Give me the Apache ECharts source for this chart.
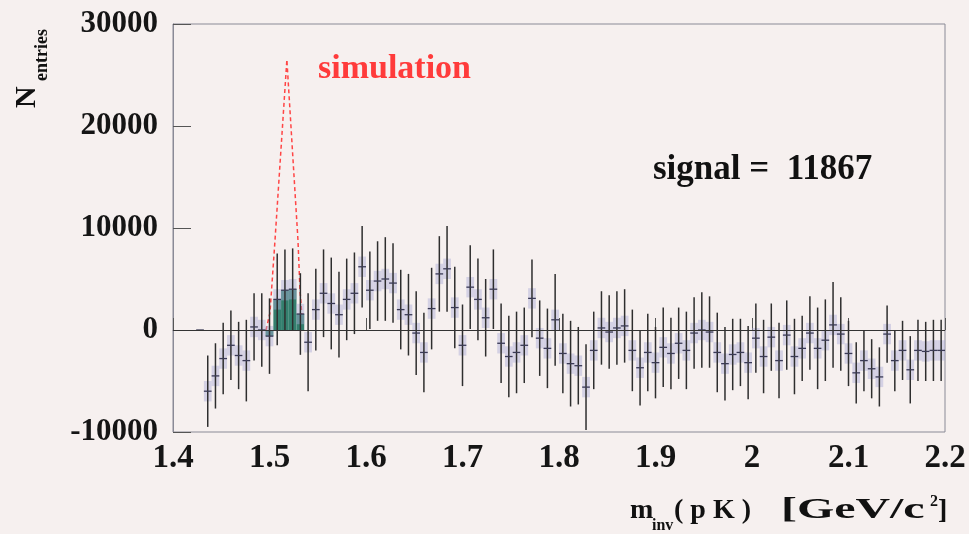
<!DOCTYPE html>
<html>
<head>
<meta charset="utf-8">
<script src="https://cdn.jsdelivr.net/npm/echarts@6/dist/echarts.min.js"></script>
<style>
  html, body { margin: 0; padding: 0; background: #f6f0ef; }
  #chart { width: 969px; height: 534px; }
</style>
</head>
<body>
<div id="chart"></div>
<script>
// Histogram binning of the invariant-mass spectrum: 100 bins from 1.4 to 2.2 GeV/c^2
const HIST_MIN = 1.4;
const BIN_WIDTH = 0.008;
const FIRST_FILLED_BIN = 3;

// Background-subtracted entries per bin, starting at FIRST_FILLED_BIN
const counts = [
  0, -6000, -4500, -2800, -1500, -2500, -3000, 300, 0, -600,
  3000, 3900, 4000, 1567, -1200, 2000, 3600, 2600, 1500, 3000,
  3600, 6200, 3900, 4800, 5000, 4600, 2000, 1500, -300, -2200,
  2100, 5500, 6000, 2200, -1500, 4200, 3000, 1200, 4000, -1300,
  -2600, -2200, -1500, 3100, -800, -1800, 1000, -2300, -3300, -3500,
  -5600, -2000, 200, -200, 200, 400, -2000, -3700, -2200, -3200,
  -1700, -2300, -1300, -2000, -300, 0, -200, -2200, -3300, -2400,
  -2200, -3200, -800, -2600, -700, -3000, -500, -2600, -1800, -300,
  -1800, -1000, 500, -400, -2300, -4200, -3000, -3800, -4600, -400,
  -3000, -2000, -3900, -2000, -2100, -2000, -2000
];

// Statistical error per bin
const errors = [
  0, 3500, 3200, 3500, 3400, 3300, 4000, 3300, 3600, 3700,
  4500, 4000, 4000, 4000, 4800, 4000, 4300, 4500, 4200, 4000,
  4000, 4000, 3800, 3900, 4100, 3900, 3900, 4000, 4100, 3900,
  4000, 3700, 4200, 4000, 4000, 4100, 4000, 3800, 3900, 3900,
  4000, 4000, 3700, 3800, 3700, 3900, 4500, 3900, 4200, 3800,
  4200, 3800, 3600, 3600, 3600, 3600, 4000, 3700, 3800, 3500,
  3900, 3500, 3500, 3800, 3500, 3700, 3500, 3900, 3600, 3500,
  3300, 3600, 3400, 3600, 3300, 3700, 3400, 3700, 3200, 3600,
  4000, 4000, 4200, 3600, 3200, 3000, 3000, 2900, 2900, 2800,
  3000, 2900, 3300, 3000, 2900, 3000, 3000
];

// Systematic band half-height drawn as a box around each point
const SYS_ERR = 1000;

// Bins counted as the signal peak
const signalBins = [12, 13, 14, 15, 16];

// Simulated peak shape
const simMass = [1.4964, 1.5005, 1.5057, 1.5180, 1.5295, 1.5316, 1.5347];
const simCounts = [0, 1700, 8800, 26500, 8800, 3900, 0];

// Axis ticks
const xTicks = { min: 1.4, max: 2.2, step: 0.1 };
const yTicks = { min: -10000, max: 30000, step: 10000 };

const binData = counts.map((c, k) => {
  const bin = FIRST_FILLED_BIN + k;
  const center = HIST_MIN + BIN_WIDTH * (bin + 0.5);
  return [center, c, errors[k], signalBins.includes(bin) ? 1 : 0];
});

const signalSum = counts.reduce((s, c, k) =>
  signalBins.includes(FIRST_FILLED_BIN + k) ? s + c : s, 0);

const SERIF = '"Liberation Serif", "DejaVu Serif", serif';

function renderBin(params, api) {
  const m = api.value(0), v = api.value(1), e = api.value(2), sig = api.value(3);
  const half = BIN_WIDTH / 2;
  const left = api.coord([m - half, v]);
  const right = api.coord([m + half, v]);
  const cx = api.coord([m, v])[0];
  const yv = left[1];
  const y0 = api.coord([m, 0])[1];
  const yTop = api.coord([m, v + e])[1];
  const yBot = api.coord([m, v - e])[1];
  const sTop = api.coord([m, v + SYS_ERR])[1];
  const sBot = api.coord([m, v - SYS_ERR])[1];
  const children = [];
  if (sig) {
    children.push({
      type: 'rect',
      shape: { x: left[0], y: Math.min(y0, yv), width: right[0] - left[0], height: Math.abs(y0 - yv) },
      style: { fill: '#337f6e' }
    });
  }
  if (e > 0) {
    children.push({
      type: 'rect',
      shape: { x: left[0], y: sTop, width: right[0] - left[0], height: sBot - sTop },
      style: { fill: 'rgba(170,170,215,0.45)' }
    });
    children.push({
      type: 'line',
      shape: { x1: cx, y1: yTop, x2: cx, y2: yBot },
      style: { stroke: '#2e2e2e', lineWidth: 1.5 }
    });
  }
  children.push({
    type: 'line',
    shape: { x1: left[0], y1: yv, x2: right[0], y2: yv },
    style: { stroke: '#3a3a55', lineWidth: 1.3 }
  });
  return { type: 'group', children };
}

function txt(x, y, text, size, opts) {
  opts = opts || {};
  return {
    type: 'text',
    x, y,
    rotation: opts.rotation || 0,
    scaleX: opts.scaleX || 1,
    style: {
      text,
      font: 'bold ' + size + 'px ' + SERIF,
      fill: opts.color || '#111',
      align: opts.align || 'left',
      textAlign: opts.align || 'left',
      verticalAlign: 'middle',
      textVerticalAlign: 'middle'
    },
    z: 100
  };
}

const chart = echarts.init(document.getElementById('chart'), null, { renderer: 'canvas' });

chart.setOption({
  backgroundColor: '#f6f0ef',
  animation: false,
  grid: {
    left: 173, right: 24, top: 24, bottom: 102,
    show: true, borderColor: '#8a8a96', borderWidth: 1, backgroundColor: 'transparent'
  },
  xAxis: {
    type: 'value',
    min: xTicks.min, max: xTicks.max, interval: xTicks.step,
    axisLine: { show: true, lineStyle: { color: '#8a8a96', width: 1 } },
    axisTick: { show: true, inside: true, length: 12, lineStyle: { color: '#555', width: 1 } },
    axisLabel: {
      margin: 10, fontSize: 33, fontWeight: 'bold', fontFamily: SERIF, color: '#151515',
      formatter: v => String(Math.round(v * 10) / 10)
    },
    splitLine: { show: false }
  },
  yAxis: {
    type: 'value',
    min: yTicks.min, max: yTicks.max, interval: yTicks.step,
    axisLine: { show: true, lineStyle: { color: '#8a8a96', width: 1 } },
    axisTick: { show: true, inside: true, length: 18, lineStyle: { color: '#555', width: 1 } },
    axisLabel: {
      margin: 15, fontSize: 31, fontWeight: 'bold', fontFamily: SERIF, color: '#151515',
      formatter: v => String(v)
    },
    splitLine: { show: false }
  },
  series: [
    {
      name: 'simulation',
      type: 'line',
      data: simMass.map((m, i) => [m, simCounts[i]]),
      symbol: 'none',
      lineStyle: { color: '#ff4545', width: 1.5, type: [4, 3] },
      z: 2,
      markLine: {
        silent: true,
        symbol: 'none',
        label: { show: false },
        lineStyle: { color: '#333', width: 1.2, type: 'solid' },
        data: [{ yAxis: 0 }]
      }
    },
    {
      name: 'data',
      type: 'custom',
      renderItem: renderBin,
      data: binData,
      encode: { x: 0, y: 1 },
      clip: true,
      z: 3
    }
  ],
  graphic: [
    txt(318, 69, 'simulation', 34, { color: '#ff3b3b' }),
    txt(653, 170, 'signal =  ' + signalSum, 35),
    // y-axis title: N with subscript "entries"
    txt(27, 108, 'N', 30, { rotation: Math.PI / 2 }),
    txt(42, 81, 'entries', 18, { rotation: Math.PI / 2 }),
    // x-axis title: m_inv ( p K )  [GeV/c^2]
    txt(630, 511, 'm', 28),
    txt(652, 526, 'inv', 16),
    txt(674, 511, '( p K )', 28),
    txt(781, 511, '[GeV/c', 29, { scaleX: 1.65 }),
    txt(930, 502, '2', 16),
    txt(938, 511, ']', 28)
  ]
});
</script>
</body>
</html>
